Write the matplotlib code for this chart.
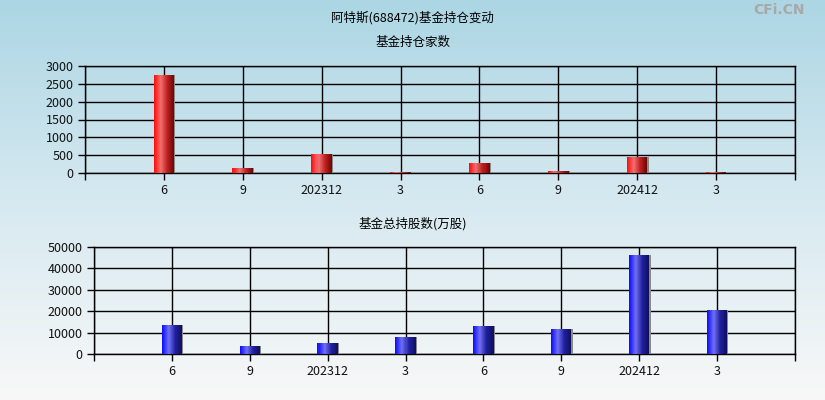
import matplotlib.pyplot as plt
import matplotlib.colors as mcolors
import numpy as np

plt.rcParams['font.family'] = ['Noto Sans CJK SC', 'DejaVu Sans']

periods = ['6', '9', '202312', '3', '6', '9', '202412', '3']
fund_count = [2750, 150, 540, 25, 280, 55, 460, 20]
fund_shares = [13600, 3800, 5150, 8000, 13100, 11700, 46400, 20600]

title = '阿特斯(688472)基金持仓变动'
top_title = '基金持仓家数'
bottom_title = '基金总持股数(万股)'

red_grad = mcolors.LinearSegmentedColormap.from_list('r', ['#ff1010', '#f07070', '#c02020', '#700808'])
blue_grad = mcolors.LinearSegmentedColormap.from_list('b', ['#1010ff', '#7070f0', '#2020a0', '#101060'])


def gradient_bars(ax, x, vals, cmap, width=0.26, n=20):
    x = np.asarray(x, dtype=float)
    vals = np.asarray(vals, dtype=float)
    sw = width / n
    for i in range(n):
        ax.bar(x - width / 2 + sw * (i + 0.5), vals, sw * 1.05, color=cmap(i / (n - 1)),
               linewidth=0, antialiased=False, zorder=3)
    # thin grey shadow on the right side
    ax.bar(x + width / 2 + 0.008, vals, 0.016, color='#8a8a8a', linewidth=0, zorder=2.9)


def style_axis(ax, ticks):
    n = len(periods)
    ax.set_xlim(-1, n)
    ax.set_facecolor('none')
    ax.set_xticks(np.arange(-1, n + 1))
    ax.set_xticklabels([''] + periods + [''], fontsize=9)
    ax.set_yticks(ticks)
    ax.set_yticklabels([str(t) for t in ticks], fontsize=9)
    ax.set_ylim(ticks[0], ticks[-1])
    ax.grid(True, color='black', linewidth=1, zorder=1)
    ax.set_axisbelow(True)
    ax.tick_params(direction='out', length=5, width=1, color='black', pad=3, labelcolor='#111111')
    for s in ax.spines.values():
        s.set_color('black')
        s.set_linewidth(1)


fig = plt.figure(figsize=(8.25, 4), dpi=100)

bg = fig.add_axes([0, 0, 1, 1], zorder=-10)
grad = np.linspace(0, 1, 256).reshape(-1, 1)
bg_cmap = mcolors.LinearSegmentedColormap.from_list('bg', ['#acd6e4', '#d6e9f0', '#f8f8f8'])
bg.imshow(grad, aspect='auto', cmap=bg_cmap, extent=[0, 1, 0, 1])
bg.axis('off')

fig.text(0.5, 0.955, title, ha='center', va='center', fontsize=9)
fig.text(0.5, 0.893, top_title, ha='center', va='center', fontsize=9)
fig.text(0.5, 0.44, bottom_title, ha='center', va='center', fontsize=9)
fig.text(0.975, 0.975, 'CFi.CN', ha='right', va='center', fontsize=10,
         color='#a8a8a8', fontweight='bold', family='DejaVu Sans')

x = np.arange(len(periods))

ax1 = fig.add_axes([0.103, 0.5675, 0.8606, 0.2675])
gradient_bars(ax1, x, fund_count, red_grad)
style_axis(ax1, list(range(0, 3001, 500)))

ax2 = fig.add_axes([0.1139, 0.115, 0.8497, 0.2675])
gradient_bars(ax2, x, fund_shares, blue_grad)
style_axis(ax2, list(range(0, 50001, 10000)))

fig.savefig('out.png', dpi=100)
